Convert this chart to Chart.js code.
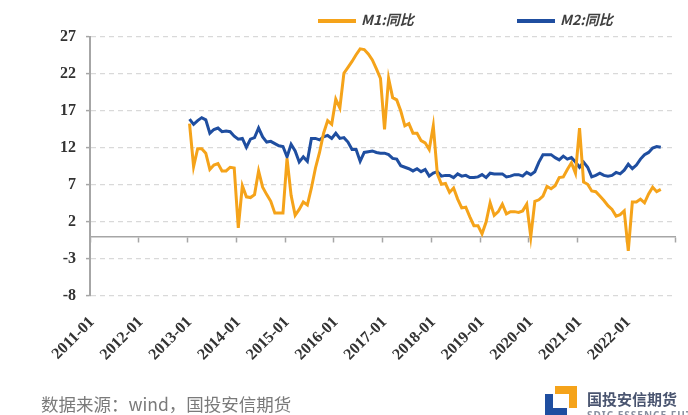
<!DOCTYPE html>
<html>
<head>
<meta charset="utf-8">
<script src="https://cdn.jsdelivr.net/npm/chart.js@4.4.0/dist/chart.umd.min.js"></script>
<style>
  html, body { margin: 0; padding: 0; background: #fff; }
  #wrap { position: relative; width: 688px; height: 415px; overflow: hidden; }
  #chart { position: absolute; left: 0; top: 0; }
  #legend { position: absolute; top: 9px; left: 0; width: 688px; height: 20px; }
  .item { position: absolute; top: 0; font: italic bold 14px "Noto Sans CJK SC", sans-serif; color: #404040; white-space: nowrap; }
  .item span.swatch { display: inline-block; width: 38px; height: 4px; vertical-align: middle; margin-right: 5px; }
  #source { position: absolute; left: 41px; top: 391px; font: 17.5px "Noto Sans CJK SC", sans-serif; color: #7a7a7a; }
  #logo { position: absolute; left: 545px; top: 384px; width: 150px; height: 40px; }
  #logo .blue { position: absolute; left: 0; top: 10px; width: 22px; height: 22px; border-left: 8px solid #1f4ea0; border-bottom: 8px solid #1f4ea0; box-sizing: border-box; }
  #logo .orange { position: absolute; left: 10px; top: 2px; width: 22px; height: 22px; border-top: 8px solid #f5a31a; border-right: 8px solid #f5a31a; box-sizing: border-box; }
  #logo .name { position: absolute; left: 42px; top: 4px; font: bold 15px "Noto Sans CJK SC", sans-serif; color: #4a5570; white-space: nowrap; }
  #logo .en { position: absolute; left: 42px; top: 24px; font: bold 10px "Noto Sans", sans-serif; color: #8890a0; white-space: nowrap; letter-spacing: 1px; }
</style>
</head>
<body>
<div id="wrap">
  <canvas id="chart" width="688" height="415"></canvas>
  <div id="legend"></div>
  <div id="source">数据来源：wind，国投安信期货</div>
  <div id="logo"><div class="blue"></div><div class="orange"></div><div class="name">国投安信期货</div><div class="en">SDIC ESSENCE FUTURES</div></div>
</div>
<script>
// 月度类目 2011-01 ~ 2022-12
const years = [2011, 2012, 2013, 2014, 2015, 2016, 2017, 2018, 2019, 2020, 2021, 2022];
const monthNames = ['01','02','03','04','05','06','07','08','09','10','11','12'];
const firstDataMonth = '2013-01';

// M1 同比 (%) 2013-01 ~ 2022-09
const m1 = [
  15.3, 9.5, 11.9, 11.9, 11.3, 9.1, 9.7, 9.9, 8.9, 8.9, 9.4, 9.3,
  1.2, 6.9, 5.4, 5.3, 5.7, 8.9, 6.7, 5.7, 4.8, 3.2, 3.2, 3.2,
  10.6, 5.6, 2.9, 3.7, 4.7, 4.3, 6.6, 9.3, 11.4, 14.0, 15.7, 15.2,
  18.6, 17.4, 22.1, 22.9, 23.7, 24.6, 25.4, 25.3, 24.7, 23.9, 22.7, 21.4,
  14.5, 21.4, 18.8, 18.5, 17.0, 15.0, 15.3, 14.0, 14.0, 13.0, 12.7, 11.8,
  15.0, 8.5, 7.1, 7.2, 6.0, 6.6, 5.1, 3.9, 4.0, 2.7, 1.5, 1.5,
  0.4, 2.0, 4.6, 2.9, 3.4, 4.4, 3.1, 3.4, 3.4, 3.3, 3.5, 4.4,
  0.0, 4.8, 5.0, 5.5, 6.8, 6.5, 6.9, 8.0, 8.1, 9.1, 10.0, 8.6,
  14.7, 7.4, 7.1, 6.2, 6.1, 5.5, 4.9, 4.2, 3.7, 2.8, 3.0, 3.5,
  -1.9, 4.7, 4.7, 5.1, 4.6, 5.8, 6.7, 6.1, 6.4
];
// M2 同比 (%) 2013-01 ~ 2022-09
const m2 = [
  15.9, 15.2, 15.7, 16.1, 15.8, 14.0, 14.5, 14.7, 14.2, 14.3, 14.2, 13.6,
  13.2, 13.3, 12.1, 13.2, 13.4, 14.7, 13.5, 12.8, 12.9, 12.6, 12.3, 12.2,
  10.8, 12.5, 11.6, 10.1, 10.8, 10.2, 13.3, 13.3, 13.1, 13.5, 13.7, 13.3,
  14.0, 13.3, 13.4, 12.8, 11.8, 11.8, 10.2, 11.4, 11.5, 11.6, 11.4, 11.3,
  11.3, 11.1, 10.6, 10.5, 9.6, 9.4, 9.2, 8.9, 9.2, 8.8, 9.1, 8.2,
  8.6, 8.8, 8.2, 8.3, 8.3, 8.0, 8.5, 8.2, 8.3, 8.0, 8.0, 8.1,
  8.4, 8.0, 8.6, 8.5, 8.5, 8.5, 8.1, 8.2, 8.4, 8.4, 8.2, 8.7,
  8.4, 8.8, 10.1, 11.1, 11.1, 11.1, 10.7, 10.4, 10.9, 10.5, 10.7, 10.1,
  9.4, 10.1, 9.4, 8.1, 8.3, 8.6, 8.3, 8.2, 8.3, 8.7, 8.5, 9.0,
  9.8, 9.2, 9.7, 10.5, 11.1, 11.4, 12.0, 12.2, 12.1
];
const yTicks = [-8, -3, 2, 7, 12, 17, 22, 27];
const seriesNames = ['M1:同比', 'M2:同比'];
const seriesColors = ['#f5a31a', '#1f4ea0'];

let labels = [];
years.forEach(function(y){ monthNames.forEach(function(m){ labels.push(y + '-' + m); }); });
let start = labels.indexOf(firstDataMonth);
function pad(arr) {
  return labels.map(function(l, i){
    let k = i - start;
    return (k >= 0 && k < arr.length) ? arr[k] : null;
  });
}

// 图例 (HTML)
let legendPos = [318, 517];
let legendEl = document.getElementById('legend');
seriesNames.forEach(function(name, i){
  let d = document.createElement('div');
  d.className = 'item';
  d.style.left = legendPos[i] + 'px';
  d.innerHTML = '<span class="swatch" style="background:' + seriesColors[i] + '"></span>' + name;
  legendEl.appendChild(d);
});

let ctx = document.getElementById('chart').getContext('2d');
let chart = new Chart(ctx, {
  type: 'line',
  data: {
    labels: labels,
    datasets: [
      { label: seriesNames[0], data: pad(m1), borderColor: seriesColors[0], backgroundColor: seriesColors[0] },
      { label: seriesNames[1], data: pad(m2), borderColor: seriesColors[1], backgroundColor: seriesColors[1] }
    ]
  },
  options: {
    responsive: false,
    animation: false,
    layout: { padding: { top: 37, right: 13, bottom: 39, left: 0 } },
    elements: {
      line: { borderWidth: 3, tension: 0 },
      point: { radius: 0 }
    },
    plugins: {
      legend: { display: false },
      tooltip: { enabled: false }
    },
    scales: {
      x: {
        type: 'category',
        offset: true,
        grid: { display: false },
        border: { display: false },
        afterBuildTicks: function(scale){
          scale.ticks = scale.ticks.filter(function(t){ return t.value % 12 === 0; });
        },
        afterFit: function(scale){ scale.height = 80; },
        ticks: {
          autoSkip: false,
          minRotation: 45,
          maxRotation: 45,
          padding: 9,
          color: '#333333',
          font: { family: 'Liberation Serif', weight: 'bold', size: 16 }
        }
      },
      x0: {
        type: 'category',
        position: { y: 0 },
        offset: true,
        grid: {
          offset: true,
          drawOnChartArea: false,
          drawTicks: true,
          tickLength: 5,
          tickWidth: 1.5,
          tickColor: function(c){ return (c.index === undefined || c.index % 12 === 0) ? '#a6a6a6' : 'rgba(0,0,0,0)'; },
          color: function(c){ return (c.index === undefined || c.index % 12 === 0) ? '#a6a6a6' : 'rgba(0,0,0,0)'; }
        },
        border: { display: true, color: '#a6a6a6', width: 1.5 },
        ticks: { display: false }
      },
      y: {
        min: -8,
        max: 27,
        afterBuildTicks: function(scale){
          scale.ticks = yTicks.map(function(v){ return { value: v }; });
        },
        afterFit: function(scale){ scale.width = 90; },
        grid: {
          color: '#d9d9d9',
          lineWidth: 1.2,
          drawTicks: true,
          tickLength: 4,
          tickColor: '#a6a6a6',
          tickWidth: 1.5
        },
        border: { display: true, color: '#a6a6a6', width: 2, dash: [5, 4] },
        ticks: {
          padding: 10,
          color: '#333333',
          font: { family: 'Liberation Serif', weight: 'bold', size: 16 }
        }
      }
    }
  }
});
</script>
</body>
</html>
